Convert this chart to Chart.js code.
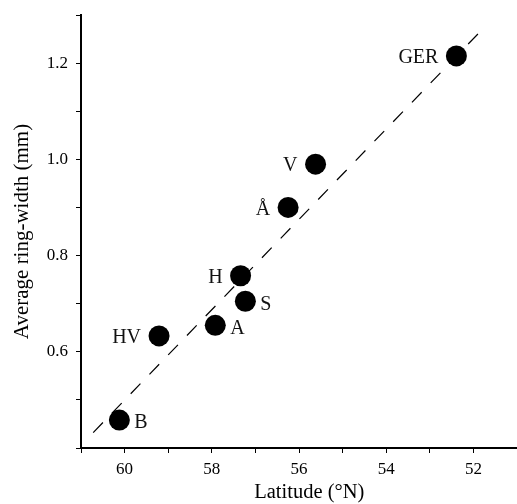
<!DOCTYPE html>
<html>
<head>
<meta charset="utf-8">
<script src="https://cdn.jsdelivr.net/npm/chart.js@4"></script>
<style>
  body { margin: 0; background: #fff; }
  canvas { display: block; }
</style>
</head>
<body>
<canvas id="ringChart" width="517" height="504"></canvas>
<script>
// site data
var sites = ['B', 'HV', 'A', 'S', 'H', 'Å', 'V', 'GER'];
var latitude = [60.12, 59.21, 57.92, 57.23, 57.34, 56.25, 55.62, 52.39];
var ringWidth = [0.458, 0.633, 0.655, 0.705, 0.758, 0.90, 0.99, 1.215];

// regression line ends
var trendLat = [60.72, 51.86];
var trendWidth = [0.432, 1.264];

var yLabelTicks = [6, 8, 10, 12];   // tenths of mm that get a label
var xLabelTicks = [60, 58, 56, 54, 52];

var serif = "'Liberation Serif', 'Times New Roman', serif";

// names beside the dots
var siteLabels = {
  id: 'siteLabels',
  afterDatasetsDraw: function(chart) {
    var ctx = chart.ctx;
    var meta = chart.getDatasetMeta(0);
    var onRight = ['B', 'A', 'S'];
    ctx.save();
    ctx.font = '20px ' + serif;
    ctx.fillStyle = '#111';
    ctx.textBaseline = 'middle';
    meta.data.forEach(function(pt, i) {
      var name = sites[i];
      if (onRight.indexOf(name) >= 0) {
        ctx.textAlign = 'left';
        ctx.fillText(name, pt.x + 15, pt.y + 3);
      } else {
        ctx.textAlign = 'right';
        ctx.fillText(name, pt.x - 18, pt.y + 2);
      }
    });
    ctx.restore();
  }
};

var points = latitude.map(function(v, i) { return { x: v, y: ringWidth[i] }; });
var trend = trendLat.map(function(v, i) { return { x: v, y: trendWidth[i] }; });

new Chart(document.getElementById('ringChart').getContext('2d'), {
  type: 'scatter',
  data: {
    datasets: [{
      label: 'sites',
      data: points,
      backgroundColor: '#000',
      borderWidth: 0,
      pointRadius: 10.5,
      pointHoverRadius: 10.5
    }, {
      label: 'fit',
      data: trend,
      showLine: true,
      borderColor: '#000',
      borderWidth: 1.2,
      borderDash: [14, 13],
      pointRadius: 0,
      fill: false
    }]
  },
  options: {
    responsive: false,
    animation: false,
    layout: { autoPadding: false, padding: { top: 15, right: 0, left: 0, bottom: 0 } },
    plugins: {
      legend: { display: false },
      tooltip: { enabled: false }
    },
    scales: {
      x: {
        type: 'linear',
        reverse: true,
        min: 51,
        max: 61,
        afterFit: function(s) {
          s.height = 56;
          s.paddingLeft = 0;
          s.paddingRight = 0;
        },
        ticks: {
          stepSize: 1,
          color: '#000',
          padding: 6,
          maxRotation: 0,
          autoSkip: false,
          font: { family: serif, size: 17, lineHeight: 1.2 },
          callback: function(v) {
            return xLabelTicks.indexOf(Math.round(v)) >= 0 ? String(Math.round(v)) : '';
          }
        },
        grid: {
          drawOnChartArea: false,
          drawTicks: true,
          tickLength: 5,
          tickColor: '#000',
          tickWidth: 1
        },
        border: { display: true, color: '#000', width: 2 },
        title: {
          display: true,
          text: '    Latitude (°N)',  // leading spaces nudge it right like the original
          color: '#000',
          font: { family: serif, size: 20.5, lineHeight: 1 },
          padding: { top: 0, bottom: 1 }
        }
      },
      y: {
        type: 'linear',
        min: 0.4,
        max: 1.3,
        afterFit: function(s) {
          s.width = 81;
          s.paddingTop = 0;
          s.paddingBottom = 0;
        },
        ticks: {
          stepSize: 0.1,
          color: '#000',
          padding: 8,
          autoSkip: false,
          font: { family: serif, size: 17, lineHeight: 1.2 },
          callback: function(v) {
            var t = Math.round(v * 10);
            return yLabelTicks.indexOf(t) >= 0 ? (t / 10).toFixed(1) : '';
          }
        },
        grid: {
          drawOnChartArea: false,
          drawTicks: true,
          tickLength: 5,
          tickColor: '#000',
          tickWidth: 1
        },
        border: { display: true, color: '#000', width: 2 },
        title: {
          display: true,
          text: 'Average ring-width (mm)',
          color: '#000',
          font: { family: serif, size: 21, lineHeight: 1.2 },
          padding: { top: 10, bottom: 0 }
        }
      }
    }
  },
  plugins: [siteLabels]
});
</script>
</body>
</html>
